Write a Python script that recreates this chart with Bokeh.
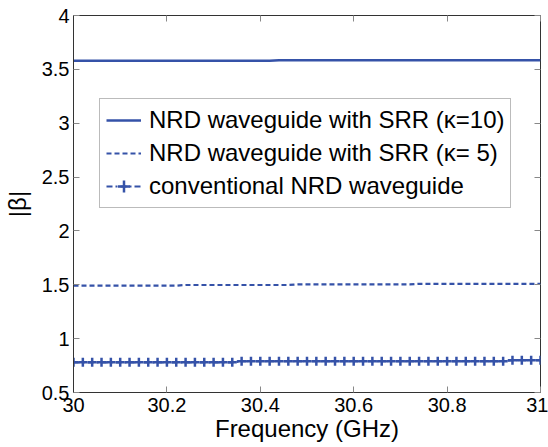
from bokeh.plotting import figure
from bokeh.models import Legend, LegendItem, LinearAxis, FixedTicker, CustomJSTickFormatter
from bokeh.embed import file_html
from bokeh.resources import INLINE

# data
freq = [30 + 0.02 * i for i in range(51)]
beta_k10 = [3.580 if f < 30.43 else 3.585 for f in freq]
beta_k5 = [1.492 if f < 30.23 else (1.498 if f < 30.475 else (1.503 if f < 30.73 else 1.509)) for f in freq]
beta_conv = [0.780 if f < 30.35 else (0.790 if f < 30.93 else 0.800) for f in freq]

x_ticks = [30, 30.2, 30.4, 30.6, 30.8, 31]
x_labels = ["30", "30.2", "30.4", "30.6", "30.8", "31"]
y_ticks = [0.5, 1, 1.5, 2, 2.5, 3, 3.5, 4]
y_labels = ["0.5", "1", "1.5", "2", "2.5", "3", "3.5", "4"]

labels = ["NRD waveguide with SRR (κ=10)",
          "NRD waveguide with SRR (κ= 5)",
          "conventional NRD waveguide"]

COLOR = "#3552a8"
FONT = "Liberation Sans"

p = figure(width=548, height=447, output_backend="svg", toolbar_location=None,
           x_range=(30, 31), y_range=(0.5, 4),
           min_border_left=72, min_border_right=8, min_border_top=15, min_border_bottom=55)
p.background_fill_color = "white"
p.border_fill_color = "white"
p.outline_line_color = "#333333"
p.outline_line_width = 1
p.xgrid.visible = False
p.ygrid.visible = False

r1 = p.line(freq, beta_k10, line_color=COLOR, line_width=2.5)
r2 = p.line(freq, beta_k5, line_color=COLOR, line_width=2.2, line_dash="5 3")
r3 = p.line(freq, beta_conv, line_color=COLOR, line_width=2.2, line_dash="6 3 2 3")
r3m = p.scatter(freq, beta_conv, marker="cross", size=9, line_color=COLOR, line_width=2.5)

for ax in (p.xaxis[0], p.yaxis[0]):
    ax.major_tick_in = 6
    ax.major_tick_out = 0
    ax.minor_tick_in = 0
    ax.minor_tick_out = 0
    ax.major_tick_line_color = "#888888"
    ax.axis_line_color = "#333333"
    ax.major_label_text_font = FONT
    ax.major_label_text_font_size = "20px"
    ax.major_label_text_color = "black"
    ax.axis_label_text_font = FONT
    ax.axis_label_text_font_size = "24px"
    ax.axis_label_text_font_style = "normal"
    ax.axis_label_text_color = "black"

p.xaxis[0].ticker = FixedTicker(ticks=x_ticks)
p.xaxis[0].major_label_overrides = dict(zip(x_ticks, x_labels))
p.xaxis[0].axis_label = "Frequency (GHz)"
p.xaxis[0].axis_label_standoff = 0
p.xaxis[0].major_label_standoff = 5
p.yaxis[0].ticker = FixedTicker(ticks=y_ticks)
p.yaxis[0].major_label_overrides = dict(zip(y_ticks, y_labels))
p.yaxis[0].axis_label = "|β|"
p.yaxis[0].axis_label_standoff = 8
p.yaxis[0].major_label_standoff = 4

blank = CustomJSTickFormatter(code="return ''")
top = LinearAxis(ticker=FixedTicker(ticks=x_ticks), formatter=blank,
                 major_tick_in=6, major_tick_out=0, minor_tick_in=0, minor_tick_out=0,
                 major_tick_line_color="#888888", axis_line_color=None, major_label_standoff=0)
right = LinearAxis(ticker=FixedTicker(ticks=y_ticks), formatter=blank,
                   major_tick_in=6, major_tick_out=0, minor_tick_in=0, minor_tick_out=0,
                   major_tick_line_color="#888888", axis_line_color=None, major_label_standoff=0)
p.add_layout(top, "above")
p.add_layout(right, "right")

legend = Legend(items=[LegendItem(label=labels[0], renderers=[r1]),
                       LegendItem(label=labels[1], renderers=[r2]),
                       LegendItem(label=labels[2], renderers=[r3, r3m])],
                location=(26, 184))
legend.label_text_font = FONT
legend.label_text_font_size = "24px"
legend.label_text_color = "black"
legend.glyph_width = 35
legend.glyph_height = 30
legend.label_height = 30
legend.label_standoff = 8
legend.spacing = 3
legend.padding = 6
legend.margin = 0
legend.border_line_color = "#777777"
legend.border_line_width = 1
legend.background_fill_alpha = 1
p.add_layout(legend, "center")

open("out.html", "w").write(file_html(p, INLINE))
